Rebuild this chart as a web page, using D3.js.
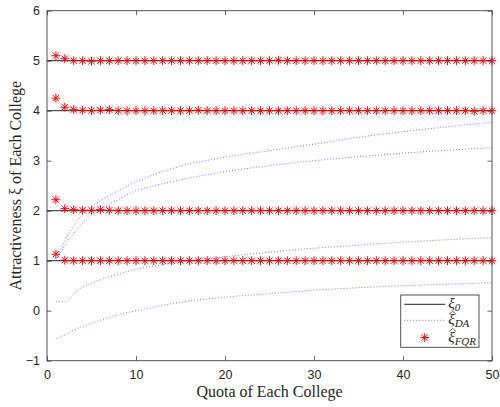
<!DOCTYPE html>
<html lang="en">
<head>
<meta charset="UTF-8">
<title>Attractiveness vs quota</title>
<style>
  body { margin: 0; background: #fff; }
  .tick text { font-family: "Liberation Sans", Arial, sans-serif; font-size: 12.5px; fill: #262626; }
  .tick line { stroke: #404040; stroke-width: 0.8; }
</style>
</head>
<body>
<script src="https://d3js.org/d3.v7.min.js"></script>
<div id="my_dataviz"></div>
<script>
// true attractiveness levels (xi_0)
var trueLevels = [1, 2, 4, 5];

// quota values 1..50
var quotas = [1,2,3,4,5,6,7,8,9,10,11,12,13,14,15,16,17,18,19,20,
              21,22,23,24,25,26,27,28,29,30,31,32,33,34,35,36,37,38,39,40,
              41,42,43,44,45,46,47,48,49,50];

// FQR estimates (stars), one array per level
var fqr5 = [5.10,5.04,5.00,5.00,4.99,5.00,5.00,5.00,5.00,5.00,5.00,5.00,5.00,5.00,5.00,5.00,5.00,5.00,5.00,5.00,
            5.00,5.00,5.00,5.00,5.00,5.01,5.00,5.00,5.00,5.00,5.00,5.00,5.00,5.00,5.00,5.00,5.00,5.00,5.00,5.00,
            5.00,5.00,5.00,5.00,5.00,5.00,5.00,5.00,5.00,5.00];
var fqr4 = [4.25,4.07,4.02,4.01,4.00,4.01,4.02,4.00,4.00,4.00,4.00,4.00,4.00,4.00,4.00,4.00,4.01,4.00,4.00,4.00,
            4.00,4.00,4.00,4.00,4.00,4.00,4.00,4.00,4.00,4.00,4.00,4.00,4.00,4.00,4.00,4.00,4.00,4.00,4.00,4.00,
            4.00,4.00,4.00,4.00,4.00,4.00,4.00,3.99,4.00,4.00];
var fqr2 = [2.22,2.04,2.02,2.01,2.01,2.02,2.01,2.00,2.00,2.00,2.00,2.00,2.00,2.00,2.00,2.00,2.00,2.00,2.00,2.00,
            2.00,2.00,2.00,2.00,2.00,2.00,2.00,2.00,2.00,2.00,2.00,2.00,2.00,2.00,2.00,2.00,2.00,2.00,2.00,2.00,
            2.00,2.00,2.00,2.00,2.00,2.00,2.00,2.00,2.00,2.00];
var fqr1 = [1.13,1.01,1.00,1.00,1.00,1.00,1.00,1.00,1.00,1.00,1.00,1.00,1.00,1.00,1.00,1.00,1.00,1.00,1.00,1.00,
            1.00,1.00,1.00,1.00,1.00,1.00,1.00,1.00,1.00,1.00,1.00,1.00,1.00,1.00,1.00,1.00,1.00,1.00,1.00,1.00,
            1.00,1.00,1.00,1.00,1.00,1.00,1.00,1.00,1.00,1.00];

// DA estimates (dotted), read at these quotas
var daQuota = [1, 2, 3, 4, 5, 6, 8, 10, 12, 14, 20, 25, 30, 35, 40, 45, 50];
var daA = [1.00, 1.40, 1.70, 1.92, 2.08, 2.20, 2.40, 2.58, 2.72, 2.84, 3.07, 3.20, 3.33, 3.47, 3.58, 3.68, 3.77];
var daB = [1.00, 1.30, 1.55, 1.75, 1.90, 2.02, 2.22, 2.40, 2.50, 2.58, 2.78, 2.90, 3.00, 3.08, 3.15, 3.21, 3.26];
var daC = [0.19, 0.17, 0.33, 0.47, 0.55, 0.62, 0.73, 0.83, 0.89, 0.95, 1.08, 1.17, 1.25, 1.31, 1.37, 1.42, 1.46];
var daD = [-0.56, -0.48, -0.39, -0.31, -0.25, -0.19, -0.08, 0.00, 0.07, 0.14, 0.27, 0.34, 0.41, 0.46, 0.50, 0.53, 0.56];

var xTicks = [0, 10, 20, 30, 40, 50];
var yTicks = [-1, 0, 1, 2, 3, 4, 5, 6];

var margin = {top: 10.7, right: 8, bottom: 46.3, left: 47},
    width = 445,
    height = 350;

var svg = d3.select("#my_dataviz")
  .append("svg")
  .attr("width", 500)
  .attr("height", 407)
  .append("g")
  .attr("transform", "translate(" + margin.left + "," + margin.top + ")");

var x = d3.scaleLinear().domain([0, 50]).range([0, width]);
var y = d3.scaleLinear().domain([-1, 6]).range([height, 0]);
var fmt = d3.format("d");

// axes (ticks point inward like matlab)
svg.append("g")
  .attr("transform", "translate(0," + height + ")")
  .call(d3.axisBottom(x).tickValues(xTicks).tickFormat(fmt).tickSize(-4.5).tickPadding(9))
  .call(function(g) { g.select(".domain").remove(); });
svg.append("g")
  .call(d3.axisTop(x).tickValues(xTicks).tickSize(-4.5).tickFormat(""))
  .call(function(g) { g.select(".domain").remove(); });
svg.append("g")
  .call(d3.axisLeft(y).tickValues(yTicks).tickFormat(fmt).tickSize(-4.5).tickPadding(7))
  .call(function(g) { g.select(".domain").remove(); });
svg.append("g")
  .attr("transform", "translate(" + width + ",0)")
  .call(d3.axisRight(y).tickValues(yTicks).tickSize(-4.5).tickFormat(""))
  .call(function(g) { g.select(".domain").remove(); });

// true levels
svg.selectAll("truelines")
  .data(trueLevels)
  .enter()
  .append("line")
  .attr("x1", x(0))
  .attr("x2", x(50))
  .attr("y1", function(d) { return y(d); })
  .attr("y2", function(d) { return y(d); })
  .attr("stroke", "#222")
  .attr("stroke-width", 1);

// DA dotted curves
var daLine = d3.line()
  .x(function(d, i) { return x(daQuota[i]); })
  .y(function(d) { return y(d); })
  .curve(d3.curveMonotoneX);

svg.selectAll("dalines")
  .data([daA, daB, daC, daD])
  .enter()
  .append("path")
  .attr("d", daLine)
  .style("fill", "none")
  .attr("stroke", "#3333ff")
  .attr("stroke-opacity", 0.75)
  .attr("stroke-width", 0.9)
  .attr("stroke-dasharray", "1,2");

// star marker (matlab '*')
function starPath(r) {
  var s = r * 0.7071;
  return "M" + (-r) + ",0L" + r + ",0M0," + (-r) + "L0," + r +
         "M" + (-s) + "," + (-s) + "L" + s + "," + s +
         "M" + (-s) + "," + s + "L" + s + "," + (-s);
}

var starData = [];
[fqr5, fqr4, fqr2, fqr1].forEach(function(arr) {
  arr.forEach(function(v, i) { starData.push({q: quotas[i], v: v}); });
});

svg.selectAll("stars")
  .data(starData)
  .enter()
  .append("path")
  .attr("transform", function(d) { return "translate(" + x(d.q) + "," + y(d.v) + ")"; })
  .attr("d", starPath(4.4))
  .style("fill", "none")
  .attr("stroke", "#ff0000")
  .attr("stroke-width", 1);

// box
svg.append("rect")
  .attr("width", width)
  .attr("height", height)
  .style("fill", "none")
  .attr("stroke", "#404040")
  .attr("stroke-width", 0.9);

// axis labels
svg.append("text")
  .attr("x", width / 2)
  .attr("y", height + 36)
  .attr("text-anchor", "middle")
  .style("font-family", "'Liberation Serif', 'DejaVu Serif', serif")
  .style("font-size", "16px")
  .style("fill", "#262626")
  .text("Quota of Each College");

svg.append("text")
  .attr("transform", "translate(-26," + (height / 2) + ") rotate(-90)")
  .attr("text-anchor", "middle")
  .style("font-family", "'Liberation Serif', 'DejaVu Serif', serif")
  .style("font-size", "16px")
  .style("fill", "#262626")
  .text("Attractiveness ξ of Each College");

// legend
var lg = svg.append("g").attr("transform", "translate(" + (400.7 - margin.left) + "," + (295 - margin.top) + ")");
lg.append("rect")
  .attr("width", 78.3)
  .attr("height", 52.3)
  .style("fill", "#fff")
  .attr("stroke", "#404040")
  .attr("stroke-width", 0.9);

lg.append("line").attr("x1", 3.5).attr("x2", 44.5).attr("y1", 9.3).attr("y2", 9.3)
  .attr("stroke", "#222").attr("stroke-width", 1);
lg.append("line").attr("x1", 3.5).attr("x2", 44.5).attr("y1", 25.3).attr("y2", 25.3)
  .attr("stroke", "#3333ff").attr("stroke-opacity", 0.75).attr("stroke-width", 0.9).attr("stroke-dasharray", "1,2");
lg.append("path").attr("transform", "translate(24,42.5)").attr("d", starPath(4.4))
  .style("fill", "none").attr("stroke", "#ff0000").attr("stroke-width", 1);

var legendLabels = [{sym: "ξ", sub: "0", hat: false, y: 9.3},
                    {sym: "ξ", sub: "DA", hat: true, y: 25.3},
                    {sym: "ξ", sub: "FQR", hat: true, y: 42.5}];
legendLabels.forEach(function(d) {
  var t = lg.append("text")
    .attr("x", 47.5)
    .attr("y", d.y + 4)
    .style("font-family", "'Liberation Serif', 'DejaVu Serif', serif")
    .style("font-style", "italic")
    .style("font-size", "15px")
    .style("fill", "#262626");
  t.append("tspan").text(d.sym);
  t.append("tspan").attr("dy", 3).style("font-size", "11px").text(d.sub);
  if (d.hat) {
    // wide hat over the xi
    lg.append("path")
      .attr("d", "M" + 48.5 + "," + (d.y - 6) + "L" + 52 + "," + (d.y - 9) + "L" + 55.5 + "," + (d.y - 6))
      .style("fill", "none")
      .attr("stroke", "#262626")
      .attr("stroke-width", 0.7);
  }
});
</script>
</body>
</html>
